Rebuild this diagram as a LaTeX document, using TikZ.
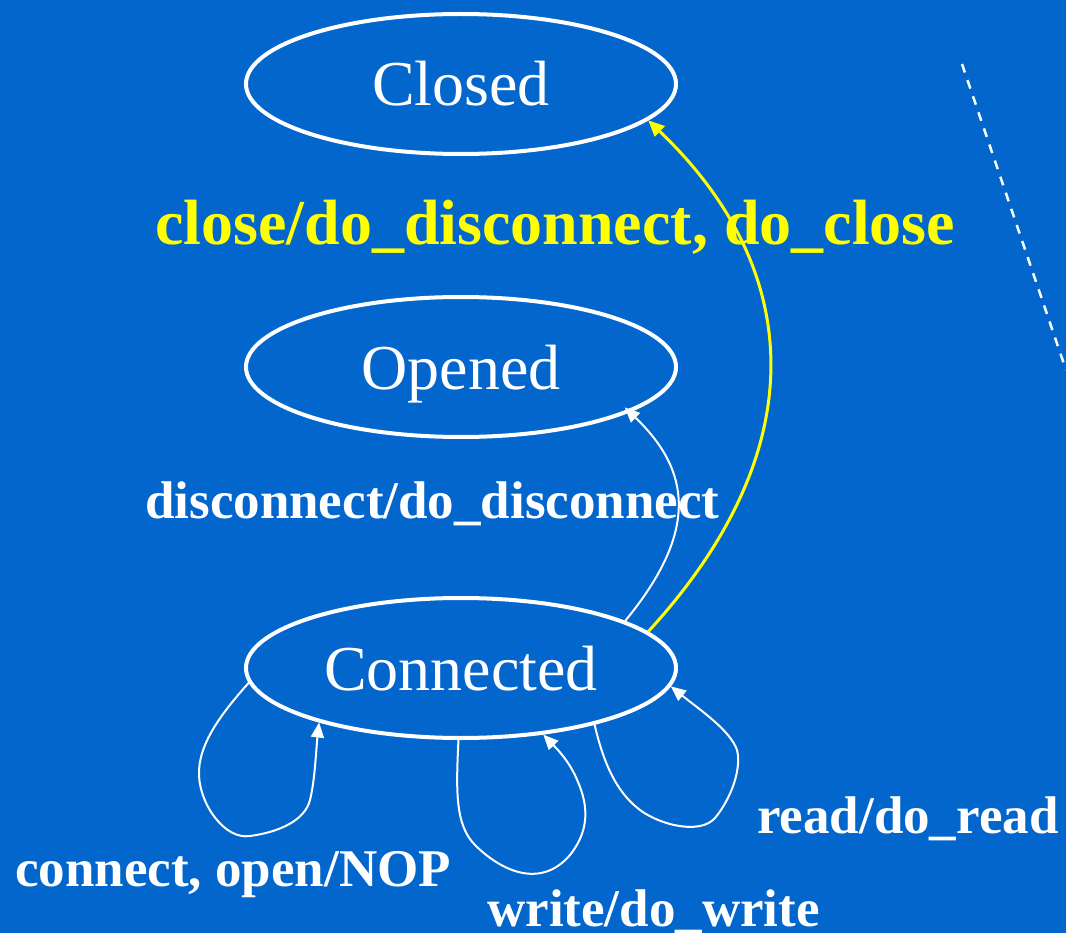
\documentclass[tikz,border=0pt]{standalone}
\usepackage{fontspec}
\setmainfont{Liberation Serif}
\usetikzlibrary{arrows.meta,shapes.geometric}
\definecolor{bgblue}{RGB}{3,102,204}
\definecolor{lblyellow}{RGB}{255,255,0}
\begin{document}
\begin{tikzpicture}[x=1pt,y=-1pt,
  state/.style={ellipse,draw=white,line width=4pt,minimum width=430pt,minimum height=140pt,
    inner sep=0pt,text=white,font=\fontsize{64}{70}\selectfont,text height=44pt,text depth=0pt},
  trans/.style={draw=white,line width=2pt,-{Triangle[length=15pt,width=13pt]}},
  ytrans/.style={draw=lblyellow,line width=3pt,-{Triangle[length=16pt,width=14pt]}},
  lbl/.style={inner sep=0pt,anchor=base west,text=white,font=\bfseries\fontsize{53}{60}\selectfont},
  ylbl/.style={inner sep=0pt,anchor=base west,text=lblyellow,font=\bfseries\fontsize{64}{70}\selectfont}]
\fill[bgblue] (0,0) rectangle (1066,933);
\useasboundingbox (0,0) rectangle (1066,933);

\node[state] (closed) at (461,84) {Closed};
\node[state] (opened) at (461,367) {Opened};
\node[state] (connected) at (461,668) {Connected};

% labels
\node[ylbl] (lclose) at (155,245) {close/do\_disconnect, do\_close};
\node[lbl] (ldisc) at (145,518) {disconnect/do\_disconnect};
\node[lbl] (lconn) at (15,886) {connect, open/NOP};
\node[lbl] (lwrite) at (487,926) {write/do\_write};
\node[lbl] (lread) at (757,833) {read/do\_read};

% yellow transition
\draw[ytrans] (connected.11) .. controls (815,450) and (805,270) .. (closed.-11);
% disconnect
\draw[trans,shorten >=-7pt] (connected.16) .. controls (700,530) and (690,470) .. (opened.-15);
% self loops
\draw[trans] (connected.184) .. controls (220,715) and (198,745) .. (199,775)
  .. controls (200,805) and (225,840) .. (250,836)
  .. controls (280,832) and (305,820) .. (310,800)
  .. controls (315,780) and (316,750) .. (connected.201);
\draw[trans] (connected.268) .. controls (456,790) and (455,825) .. (475,845)
  .. controls (500,870) and (540,890) .. (570,855)
  .. controls (590,830) and (588,805) .. (578,782)
  .. controls (570,762) and (558,750) .. (connected.321);
\draw[trans] (connected.337) .. controls (605,770) and (620,795) .. (640,810)
  .. controls (660,825) and (700,835) .. (715,818)
  .. controls (730,800) and (742,770) .. (737,750)
  .. controls (730,730) and (700,710) .. (connected.355);

% dashed line
\coordinate (d1) at (962,64);
\coordinate (d2) at (1066,370);
\draw[white,line width=2.5pt,dash pattern=on 9pt off 8pt] (d1) -- (d2);
\end{tikzpicture}
\end{document}
